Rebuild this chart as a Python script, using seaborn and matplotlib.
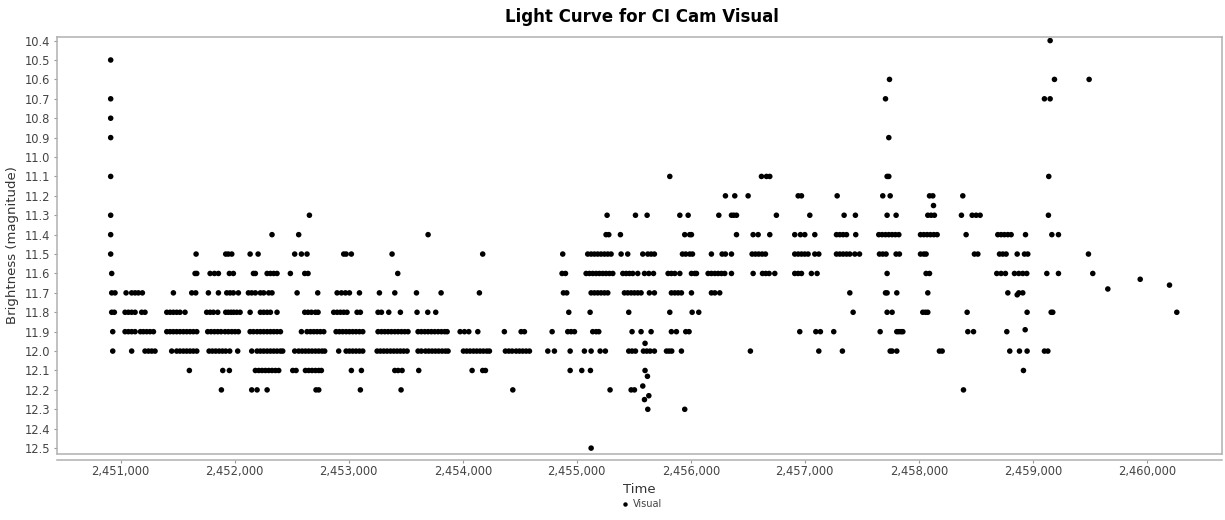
import matplotlib
matplotlib.use("Agg")
import matplotlib.pyplot as plt
import seaborn as sns
import pandas as pd
from matplotlib.ticker import FuncFormatter, MultipleLocator
from matplotlib.lines import Line2D

# ---------------- data: Julian dates grouped by reported magnitude ----------------
t_104 = [2459152]
t_105 = [2450912]
t_106 = [2457743, 2459190, 2459494]
t_107 = [2450912, 2457708, 2459102, 2459152]
t_108 = [2450912]
t_109 = [2450912, 2457737]
t_111 = [2450912, 2455816, 2456620, 2456664, 2456693, 2457722, 2457737, 2459140]
t_112 = [2456304, 2456386, 2456503, 2456942, 2456971, 2457284, 2457684, 2457749,
         2458094, 2458123, 2458386]
t_113 = [2450912, 2452655, 2455266, 2455515, 2455617, 2455904, 2455977, 2456246,
         2456357, 2456377, 2456401, 2456751, 2457044, 2457345, 2457444, 2457722,
         2457801, 2458079, 2458108, 2458137, 2458374, 2458468, 2458503, 2458538, 2459137]
t_114 = [2450912, 2452327, 2452561, 2453696, 2455257, 2455281, 2455383, 2455947,
         2455991, 2456006, 2456401, 2456547, 2456591, 2456693, 2456912, 2456962,
         2457000, 2457088, 2457278, 2457307, 2457336, 2457366, 2457447, 2457649,
         2457678, 2457708, 2457737, 2457766, 2457795, 2457825, 2458015, 2458044,
         2458073, 2458102, 2458132, 2458161, 2458415, 2458693, 2458722, 2458751,
         2458781, 2458810, 2458936, 2459167, 2459225]
t_115 = [2450912, 2451661, 2451921, 2451944, 2451974, 2452135, 2452205, 2452526,
         2452585, 2452634, 2452956, 2452977, 2453023, 2453380, 2454175, 2454877,
         2455096, 2455126, 2455155, 2455184, 2455213, 2455243, 2455272, 2455301,
         2455389, 2455447, 2455579, 2455623, 2455652, 2455681, 2455927, 2455956,
         2455991, 2456015, 2456181, 2456275, 2456304, 2456357, 2456538, 2456567,
         2456596, 2456626, 2456655, 2456912, 2456942, 2456971, 2457000, 2457029,
         2457088, 2457123, 2457278, 2457307, 2457336, 2457366, 2457395, 2457439,
         2457480, 2457655, 2457684, 2457713, 2457801, 2457830, 2458015, 2458044,
         2458064, 2458488, 2458518, 2458708, 2458737, 2458766, 2458863, 2458927,
         2458956, 2459488]
t_116 = [2450921, 2451652, 2451667, 2451784, 2451822, 2451857, 2451953, 2451988,
         2452164, 2452181, 2452284, 2452313, 2452342, 2452371, 2452488, 2452614,
         2452643, 2453430, 2454871, 2454901, 2455082, 2455111, 2455140, 2455170,
         2455199, 2455228, 2455257, 2455287, 2455316, 2455404, 2455433, 2455462,
         2455491, 2455535, 2455594, 2455632, 2455673, 2455801, 2455830, 2455860,
         2455904, 2456006, 2456035, 2456050, 2456152, 2456181, 2456211, 2456240,
         2456269, 2456298, 2456357, 2456547, 2456629, 2456658, 2456687, 2456737,
         2456912, 2456942, 2456971, 2457058, 2457108, 2457722, 2458064, 2458094,
         2458684, 2458722, 2458760, 2458839, 2458877, 2458912, 2458947, 2459123,
         2459225, 2459526]
t_117 = [2450921, 2450950, 2451047, 2451096, 2451126, 2451155, 2451190, 2451462,
         2451623, 2451658, 2451769, 2451857, 2451930, 2451959, 2451988, 2452032,
         2452120, 2452149, 2452181, 2452225, 2452254, 2452298, 2452327, 2452547,
         2452728, 2452898, 2452936, 2452971, 2453006, 2453094, 2453269, 2453404,
         2453594, 2453810, 2454146, 2454883, 2454912, 2455126, 2455155, 2455184,
         2455213, 2455243, 2455272, 2455418, 2455447, 2455477, 2455506, 2455535,
         2455564, 2455637, 2455681, 2455830, 2455860, 2455889, 2455918, 2456006,
         2456181, 2456211, 2456254, 2457395, 2457708, 2457722, 2457807, 2458079,
         2458781, 2458877, 2458912]
t_118 = [2450921, 2450944, 2451038, 2451067, 2451096, 2451126, 2451184, 2451213,
         2451404, 2451433, 2451462, 2451491, 2451520, 2451564, 2451754, 2451784,
         2451813, 2451851, 2451921, 2451944, 2451968, 2451991, 2452018, 2452047,
         2452135, 2452225, 2452254, 2452284, 2452313, 2452371, 2452614, 2452643,
         2452673, 2452708, 2452731, 2452868, 2452898, 2452927, 2452956, 2452985,
         2453073, 2453102, 2453257, 2453287, 2453351, 2453453, 2453599, 2453693,
         2453763, 2454930, 2455117, 2455456, 2455816, 2456012, 2456070, 2457424,
         2457722, 2457766, 2458035, 2458058, 2458079, 2458424, 2458950, 2459161,
         2459175, 2460263]
t_119 = [2450930, 2451038, 2451067, 2451096, 2451126, 2451173, 2451199, 2451228,
         2451257, 2451287, 2451404, 2451433, 2451462, 2451491, 2451520, 2451550,
         2451579, 2451608, 2451637, 2451667, 2451763, 2451792, 2451822, 2451851,
         2451880, 2451915, 2451944, 2451974, 2452003, 2452032, 2452135, 2452164,
         2452196, 2452225, 2452254, 2452284, 2452313, 2452342, 2452371, 2452401,
         2452585, 2452634, 2452664, 2452693, 2452722, 2452751, 2452781, 2452889,
         2452918, 2452947, 2452977, 2453006, 2453035, 2453064, 2453094, 2453123,
         2453257, 2453287, 2453316, 2453345, 2453374, 2453404, 2453433, 2453462,
         2453491, 2453520, 2453608, 2453637, 2453667, 2453696, 2453725, 2453754,
         2453784, 2453813, 2453842, 2453863, 2453977, 2454015, 2454053, 2454132,
         2454365, 2454512, 2454541, 2454784, 2454921, 2454950, 2454980, 2455140,
         2455170, 2455193, 2455485, 2455564, 2455652, 2455830, 2455874, 2455956,
         2455985, 2456956, 2457097, 2457137, 2457254, 2457661, 2457807, 2457825,
         2457845, 2457860, 2458430, 2458480, 2458772]
t_120 = [2450930, 2451096, 2451213, 2451243, 2451272, 2451301, 2451447, 2451491,
         2451520, 2451550, 2451579, 2451608, 2451637, 2451667, 2451775, 2451804,
         2451833, 2451863, 2451892, 2451921, 2451956, 2452026, 2452149, 2452196,
         2452225, 2452254, 2452284, 2452313, 2452342, 2452371, 2452401, 2452421,
         2452526, 2452561, 2452591, 2452620, 2452649, 2452678, 2452708, 2452737,
         2452766, 2452789, 2452912, 2452977, 2453006, 2453035, 2453064, 2453094,
         2453123, 2453249, 2453278, 2453307, 2453336, 2453366, 2453395, 2453424,
         2453453, 2453482, 2453512, 2453608, 2453637, 2453673, 2453702, 2453731,
         2453760, 2453789, 2453819, 2453848, 2453871, 2454006, 2454035, 2454064,
         2454094, 2454123, 2454152, 2454181, 2454211, 2454234, 2454374, 2454404,
         2454433, 2454468, 2454497, 2454526, 2454556, 2454585, 2454746, 2454804,
         2454942, 2455067, 2455126, 2455205, 2455251, 2455456, 2455485, 2455515,
         2455585, 2455614, 2455643, 2455681, 2455787, 2455810, 2455833, 2455918,
         2456523, 2457123, 2457330, 2457749, 2457766, 2457807, 2458181, 2458205,
         2458798, 2458883, 2458950, 2459102, 2459132]
t_121 = [2451602, 2451895, 2451953, 2452181, 2452211, 2452240, 2452269, 2452298,
         2452327, 2452357, 2452386, 2452509, 2452538, 2452620, 2452649, 2452678,
         2452708, 2452737, 2452760, 2453023, 2453111, 2453404, 2453433, 2453468,
         2453614, 2454082, 2454175, 2454199, 2454942, 2455044, 2455120, 2455599,
         2458918]
t_122 = [2451883, 2452149, 2452196, 2452284, 2452713, 2452737, 2453102, 2453459,
         2454439, 2455292, 2455477, 2455506, 2458392]
t_123 = [2455947, 2455623]
t_125 = [2455126]

# observations that fall between the 0.1-mag steps
extra_time = [2458129, 2458863, 2458933, 2455599, 2455620, 2455579, 2455632, 2455594,
              2459658, 2459942, 2460199]
extra_mag = [11.25, 11.71, 11.89, 11.96, 12.13, 12.18, 12.23, 12.25,
             11.68, 11.63, 11.66]

level_lists = {10.4: t_104, 10.5: t_105, 10.6: t_106, 10.7: t_107, 10.8: t_108,
               10.9: t_109, 11.1: t_111, 11.2: t_112, 11.3: t_113, 11.4: t_114,
               11.5: t_115, 11.6: t_116, 11.7: t_117, 11.8: t_118, 11.9: t_119,
               12.0: t_120, 12.1: t_121, 12.2: t_122, 12.3: t_123, 12.5: t_125}

rows = []
for m, ts in level_lists.items():
    rows += [(t, m) for t in ts]
rows += list(zip(extra_time, extra_mag))
df = pd.DataFrame(rows, columns=["Time", "Brightness"])

# ---------------- figure ----------------
sns.set_style("white")
plt.rcParams["font.family"] = ["DejaVu Sans"]

fig = plt.figure(figsize=(12.25, 5.2), dpi=100)
ax = fig.add_axes([0.0468, 0.1263, 0.9508, 0.8031])

sns.scatterplot(data=df, x="Time", y="Brightness", color="black", s=16,
                edgecolor="none", linewidth=0, ax=ax, legend=False)

ax.set_xlim(2450444, 2460660)
ax.set_ylim(12.532, 10.38)

ax.xaxis.set_major_locator(MultipleLocator(1000))
ax.xaxis.set_major_formatter(FuncFormatter(lambda v, p: f"{int(round(v)):,}"))
ax.yaxis.set_major_locator(MultipleLocator(0.1))
ax.yaxis.set_major_formatter(FuncFormatter(lambda v, p: f"{v:.1f}"))

for sp in ax.spines.values():
    sp.set_color("#b0b0b0")
    sp.set_linewidth(1.1)
# the domain axis line sits a few pixels below the plot frame
ax.spines["bottom"].set_position(("outward", 4))
ax.axhline(12.532, color="#b0b0b0", linewidth=1.1, clip_on=False)

ax.tick_params(axis="both", colors="#999999", labelcolor="#444444",
               labelsize=8.3, length=2, width=0.8, pad=3)
ax.tick_params(axis="x", bottom=True, pad=2)
ax.tick_params(axis="y", left=True)

ax.set_xlabel("Time", fontsize=9.5, color="#333333", labelpad=3)
ax.set_ylabel("Brightness (magnitude)", fontsize=9.5, color="#333333", labelpad=4)

fig.text(0.5237, 0.968, "Light Curve for CI Cam Visual", ha="center", va="center",
         fontsize=12, fontweight="bold", color="black")

handle = Line2D([], [], marker="o", linestyle="none", color="black",
                markersize=3.2, markeredgewidth=0)
fig.legend([handle], ["Visual"], loc="center", bbox_to_anchor=(0.5237, 0.03),
           frameon=False, fontsize=7, handletextpad=0.3, handlelength=1.0,
           labelcolor="#444444")

fig.savefig("out.png", dpi=100)
